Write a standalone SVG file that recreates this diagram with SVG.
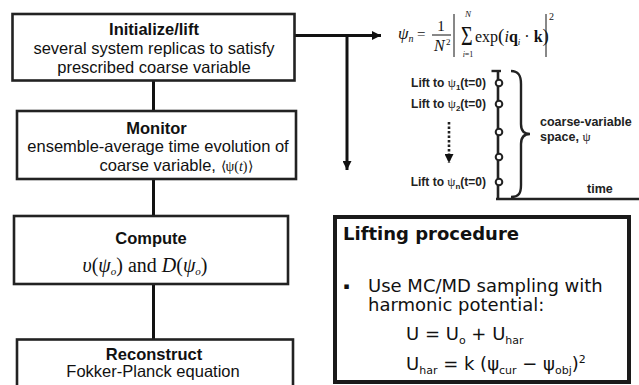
<svg xmlns="http://www.w3.org/2000/svg" width="639" height="385" viewBox="0 0 639 385">
<defs>
<style>
.box{fill:#fff;stroke:#222;stroke-width:2.6}
.conn{stroke:#111;stroke-width:3;fill:none}
.lbl{font-family:"Liberation Sans",Arial,sans-serif;font-size:16.5px;fill:#111;text-anchor:middle}
.b{font-weight:bold}
.math{font-family:"Liberation Serif","Times New Roman",serif;fill:#111}
.lift{font-family:"Liberation Sans",Arial,sans-serif;font-size:12px;font-weight:bold;fill:#222}
.psi{font-family:"Liberation Serif","Times New Roman",serif;font-weight:normal;font-size:13px}
.vd{font-family:"DejaVu Sans",Verdana,sans-serif;font-size:18px;fill:#111}
</style>
<marker id="arr" viewBox="0 0 10 10" refX="10" refY="5" markerWidth="9" markerHeight="9" markerUnits="userSpaceOnUse" orient="auto">
<path d="M0,0 L10,5 L0,10 z" fill="#111"/>
</marker>
</defs>
<rect width="639" height="385" fill="#fff"/>

<g id="connectors">
<line class="conn" x1="153.5" y1="80" x2="153.5" y2="111"/>
<line class="conn" x1="153.5" y1="179" x2="153.5" y2="216"/>
<line class="conn" x1="153.5" y1="284" x2="153.5" y2="340"/>
<line class="conn" x1="295" y1="35.5" x2="381" y2="35.5" stroke-width="2.6" marker-end="url(#arr)"/>
<line class="conn" x1="347" y1="35.5" x2="347" y2="170" stroke-width="2.6" marker-end="url(#arr)"/>
</g>

<g id="initialize">
<rect class="box" x="12.5" y="14" width="282" height="66.5"/>
<text class="lbl b" x="154" y="35">Initialize/lift</text>
<text class="lbl" x="154" y="54">several system replicas to satisfy</text>
<text class="lbl" x="154" y="73">prescribed coarse variable</text>
</g>

<g id="monitor">
<rect class="box" x="17" y="111" width="279" height="68"/>
<text class="lbl b" x="156.5" y="134">Monitor</text>
<text class="lbl" x="158" y="152">ensemble-average time evolution of</text>
<text class="lbl" x="176" y="171">coarse variable, <tspan class="math" font-size="14">⟨ψ(<tspan font-style="italic">t</tspan>)⟩</tspan></text>
</g>

<g id="compute">
<rect class="box" x="14" y="216" width="274" height="68"/>
<text class="lbl b" x="151" y="244">Compute</text>
<text class="math" x="145" y="272" font-size="20" text-anchor="middle"><tspan font-style="italic">υ</tspan>(<tspan font-style="italic">ψ</tspan><tspan font-size="11" dy="3" font-style="italic">o</tspan><tspan dy="-3">) and </tspan><tspan font-style="italic">D</tspan>(<tspan font-style="italic">ψ</tspan><tspan font-size="11" dy="3" font-style="italic">o</tspan><tspan dy="-3">)</tspan></text>
</g>

<g id="reconstruct">
<rect class="box" x="17" y="339.5" width="276" height="70"/>
<text class="lbl b" x="154" y="360">Reconstruct</text>
<text class="lbl" x="153" y="377">Fokker-Planck equation</text>
</g>

<g id="formula" class="math">
<text x="398" y="39" font-size="17" font-style="italic">ψ<tspan font-size="10" dy="3">n</tspan></text>
<text x="417" y="39" font-size="15">=</text>
<text x="441" y="31" font-size="15" text-anchor="middle">1</text>
<line x1="432" y1="35" x2="451" y2="35" stroke="#111" stroke-width="1"/>
<text x="434" y="51" font-size="16" font-style="italic">N</text>
<text x="446" y="45" font-size="9">2</text>
<line x1="454" y1="14" x2="454" y2="57" stroke="#111" stroke-width="1"/>
<text transform="translate(461,45) scale(1,1.4)" font-size="20">Σ</text>
<text x="468" y="17" font-size="9" font-style="italic" text-anchor="middle">N</text>
<text x="468" y="57" font-size="8" text-anchor="middle"><tspan font-style="italic">i</tspan>=1</text>
<text x="475" y="42" font-size="16">exp<tspan font-size="19">(</tspan><tspan font-style="italic">i</tspan><tspan font-weight="bold">q</tspan><tspan font-style="italic" font-size="9" dy="3">i</tspan><tspan dy="-3"> · </tspan><tspan font-weight="bold">k</tspan><tspan font-size="19">)</tspan></text>
<line x1="546" y1="14" x2="546" y2="57" stroke="#111" stroke-width="1"/>
<text x="549" y="20" font-size="10">2</text>
</g>

<g id="ladder">
<line x1="498" y1="71" x2="498" y2="199" stroke="#222" stroke-width="2.6"/>
<line x1="491.5" y1="71" x2="501" y2="71" stroke="#222" stroke-width="2.4"/>
<line x1="496" y1="199" x2="639" y2="199" stroke="#222" stroke-width="2.6"/>
<g fill="#fff" stroke="#222" stroke-width="2">
<circle cx="499" cy="83" r="3.3"/>
<circle cx="499" cy="104" r="3.3"/>
<circle cx="499" cy="132" r="3.3"/>
<circle cx="499" cy="157" r="3.3"/>
<circle cx="499" cy="182" r="3.3"/>
</g>
<path d="M511,71 C519,71 521,76 521,84 L521,124 C521,131 524,134 530,134 C524,134 521,137 521,144 L521,185 C521,193 519,197 511,197" fill="none" stroke="#222" stroke-width="2.4"/>
<line x1="449" y1="122" x2="449" y2="163" stroke="#222" stroke-width="2.6" stroke-dasharray="2.5,2" marker-end="url(#arr)"/>
<text class="lift" x="486" y="87" text-anchor="end">Lift to <tspan class="psi">ψ</tspan><tspan font-size="8" dy="3">1</tspan><tspan dy="-3">(t=0)</tspan></text>
<text class="lift" x="486" y="108" text-anchor="end">Lift to <tspan class="psi">ψ</tspan><tspan font-size="8" dy="3">2</tspan><tspan dy="-3">(t=0)</tspan></text>
<text class="lift" x="486" y="186" text-anchor="end">Lift to <tspan class="psi">ψ</tspan><tspan font-size="8" dy="3">n</tspan><tspan dy="-3">(t=0)</tspan></text>
<text class="lift" x="540" y="126" style="font-size:12.5px">coarse-variable</text>
<text class="lift" x="540" y="141" style="font-size:12.5px">space, <tspan class="psi">ψ</tspan></text>
<text class="lift" x="587" y="193" style="font-size:12.5px">time</text>
</g>

<g id="lifting-procedure">
<rect x="335" y="217" width="294" height="165" fill="#fff" stroke="#1a1a1a" stroke-width="4"/>
<text class="vd" x="343" y="240" font-weight="bold">Lifting procedure</text>
<text class="vd" x="343.5" y="289" style="font-size:9px">▪</text>
<text class="vd" x="368" y="292">Use MC/MD sampling with</text>
<text class="vd" x="368" y="311">harmonic potential:</text>
<text class="vd" x="406" y="340">U = U<tspan font-size="11" dy="4">o</tspan><tspan dy="-4"> + U</tspan><tspan font-size="11" dy="4">har</tspan></text>
<text class="vd" x="406" y="370">U<tspan font-size="11" dy="4">har</tspan><tspan dy="-4"> = k (ψ</tspan><tspan font-size="11" dy="4">cur</tspan><tspan dy="-4"> − ψ</tspan><tspan font-size="11" dy="4">obj</tspan><tspan dy="-4">)</tspan><tspan font-size="11" dy="-7">2</tspan></text>
</g>
</svg>
